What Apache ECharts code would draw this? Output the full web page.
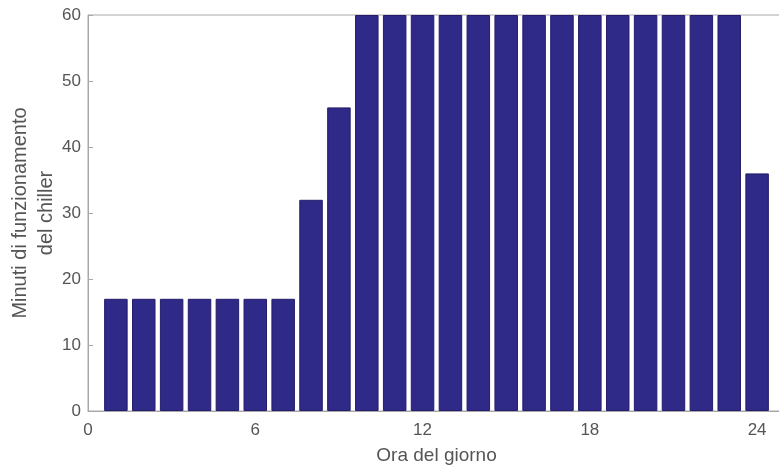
<!DOCTYPE html>
<html><head><meta charset="utf-8">
<script src="https://cdn.jsdelivr.net/npm/echarts@6/dist/echarts.min.js"></script>
<style>html,body{margin:0;padding:0;background:#fff}#c{width:779px;height:470px}</style>
</head><body><div id="c"></div>
<script>
var hours = [1,2,3,4,5,6,7,8,9,10,11,12,13,14,15,16,17,18,19,20,21,22,23,24];
var minutes = [17,17,17,17,17,17,17,32,46,60,60,60,60,60,60,60,60,60,60,60,60,60,60,36];
var xTicks = [0,6,12,18,24];
var yTicks = [0,10,20,30,40,50,60];
var xLabel = 'Ora del giorno';
var yLabel = 'Minuti di funzionamento\ndel chiller';

var chart = echarts.init(document.getElementById('c'), null, {renderer:'canvas'});
var axisCol = '#a8a8a8', txtCol = '#555';
var ff = 'Liberation Sans';
chart.setOption({
  animation:false,
  grid:{left:88, top:15, width:697, height:396, show:true, borderColor:axisCol, borderWidth:1,
    backgroundColor:'#fff', outerBoundsMode:'none', containLabel:false},
  xAxis:{type:'value', min:0, max:25, name:xLabel, nameLocation:'middle', nameGap:35, nameMoveOverlap:false,
    nameTextStyle:{color:txtCol, fontSize:19, fontFamily:ff},
    axisLine:{show:true, lineStyle:{color:axisCol}},
    axisTick:{show:true, inside:true, length:5, lineStyle:{color:axisCol}, customValues:xTicks},
    axisLabel:{color:txtCol, fontSize:17, fontFamily:ff, margin:11, customValues:xTicks},
    splitLine:{show:false}},
  yAxis:{type:'value', min:0, max:60, interval:10, name:yLabel, nameLocation:'middle', nameGap:29, nameRotate:90, nameMoveOverlap:false,
    nameTextStyle:{color:txtCol, fontSize:20, fontFamily:ff, lineHeight:26},
    axisLine:{show:true, lineStyle:{color:axisCol}},
    axisTick:{show:true, inside:true, length:5, lineStyle:{color:axisCol}},
    axisLabel:{color:txtCol, fontSize:17, fontFamily:ff, margin:7},
    splitLine:{show:false}},
  series:[{type:'bar', barWidth:23.5,
    data:hours.map(function(h,i){return [h, minutes[i]];}),
    itemStyle:{color:'#2f2987', borderColor:'#231d6b', borderWidth:1}}]
});
</script></body></html>
